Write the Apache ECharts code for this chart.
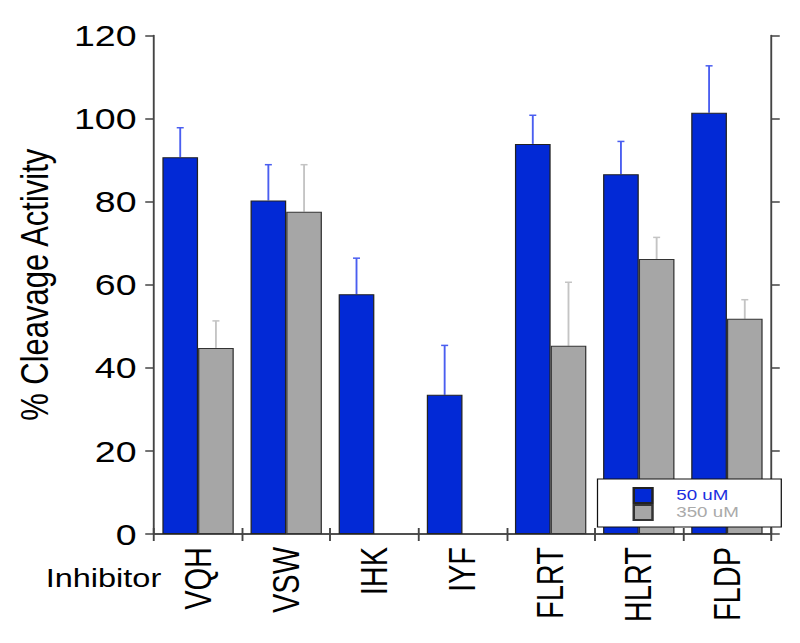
<!DOCTYPE html>
<html>
<head>
<meta charset="utf-8">
<script src="https://cdn.jsdelivr.net/npm/echarts@6/dist/echarts.min.js"></script>
<style>
html,body{margin:0;padding:0;background:#fff;overflow:hidden;}
#c{width:640px;height:643px;transform:scaleX(1.25);transform-origin:0 0;}
</style>
</head>
<body>
<div id="c"></div>
<script>
var categories = ['VQH', 'VSW', 'IHK', 'IYF', 'FLRT', 'HLRT', 'FLDP'];
var values50 = [90.7, 80.3, 57.7, 33.5, 93.9, 86.6, 101.4];
var errors50 = [7.1, 8.6, 8.7, 11.9, 6.9, 7.9, 11.3];
var values350 = [44.8, 77.6, null, null, 45.3, 66.2, 51.8];
var errors350 = [6.5, 11.3, null, null, 15.3, 5.2, 4.6];
var yTicks = [0, 20, 40, 60, 80, 100, 120];
var seriesNames = ['50 uM', '350 uM'];

var FONT = '"Liberation Sans", Arial, Helvetica, sans-serif';
var BLUE = '#0229d6';
var GRAY = '#a6a6a6';
var CAT_GAP = 0.19;

function errorSeries(name, vals, errs, side, color) {
  var data = [];
  for (var i = 0; i < vals.length; i++) {
    if (vals[i] != null && errs[i] != null) data.push([i, vals[i], vals[i] + errs[i]]);
  }
  return {
    type: 'custom',
    name: name + ' err',
    z: 1,
    silent: true,
    data: data,
    renderItem: function (params, api) {
      var cat = api.value(0);
      var lo = api.coord([cat, api.value(1)]);
      var hi = api.coord([cat, api.value(2)]);
      var bw = api.size([1, 0])[0] * (1 - CAT_GAP) / 2;
      var x = lo[0] + side * bw / 2;
      var cap = 2.8;
      var st = { stroke: color, lineWidth: 1.5 };
      return {
        type: 'group',
        children: [
          { type: 'line', shape: { x1: x, y1: lo[1], x2: x, y2: hi[1] }, style: st },
          { type: 'line', shape: { x1: x - cap, y1: hi[1], x2: x + cap, y2: hi[1] }, style: st }
        ]
      };
    }
  };
}

var axisLineStyle = { color: '#444', width: 1.5 };

var chart = echarts.init(document.getElementById('c'), null, { renderer: 'svg' });
chart.setOption({
  animation: false,
  backgroundColor: '#fff',
  grid: { left: 123.2, right: 23.2, top: 35.5, bottom: 109, containLabel: false },
  legend: {
    orient: 'vertical',
    left: 478,
    top: 479,
    width: 124,
    padding: [8, 34, 6, 28],
    itemGap: 0,
    itemWidth: 15,
    itemHeight: 15,
    backgroundColor: '#fff',
    borderColor: '#111',
    borderWidth: 1,
    borderRadius: 0,
    icon: 'rect',
    data: [
      { name: seriesNames[0], textStyle: { color: '#1a2ee0' } },
      { name: seriesNames[1], textStyle: { color: '#aaaaaa' } }
    ],
    textStyle: { fontFamily: FONT, fontSize: 15, lineHeight: 15, padding: [0, 0, 0, 14] }
  },
  xAxis: [
    {
      type: 'category',
      data: categories,
      position: 'bottom',
      axisLine: { lineStyle: axisLineStyle },
      axisTick: { show: true, inside: false, length: 7, lineStyle: axisLineStyle },
      axisLabel: { rotate: 90, margin: 13, fontSize: 29, color: '#000', fontFamily: FONT, interval: 0 }
    },
    {
      type: 'category',
      data: categories,
      position: 'top',
      axisLine: { lineStyle: axisLineStyle },
      axisTick: { show: true, inside: false, length: 6, lineStyle: axisLineStyle },
      axisLabel: { show: false }
    }
  ],
  yAxis: [
    {
      type: 'value',
      min: yTicks[0],
      max: yTicks[yTicks.length - 1],
      interval: yTicks[1] - yTicks[0],
      position: 'left',
      name: '% Cleavage Activity',
      nameLocation: 'middle',
      nameGap: 80,
      nameRotate: 90,
      nameTextStyle: { fontSize: 31, color: '#000', fontFamily: FONT },
      axisLine: { show: true, lineStyle: axisLineStyle },
      axisTick: { show: true, inside: false, length: 7, lineStyle: axisLineStyle },
      axisLabel: { margin: 14, fontSize: 30, color: '#000', fontFamily: FONT },
      splitLine: { show: false }
    },
    {
      type: 'value',
      min: yTicks[0],
      max: yTicks[yTicks.length - 1],
      interval: yTicks[1] - yTicks[0],
      position: 'right',
      axisLine: { show: true, onZero: false, lineStyle: axisLineStyle },
      axisTick: { show: true, inside: false, length: 7, lineStyle: axisLineStyle },
      axisLabel: { show: false },
      splitLine: { show: false }
    }
  ],
  graphic: [
    {
      type: 'text',
      x: 129,
      y: 578,
      style: { text: 'Inhibitor', font: '26px ' + FONT, fill: '#000', align: 'right', verticalAlign: 'middle' }
    }
  ],
  series: [
    {
      type: 'bar',
      name: seriesNames[0],
      data: values50,
      barGap: 0,
      barCategoryGap: (CAT_GAP * 100) + '%',
      itemStyle: { color: BLUE, borderColor: '#222', borderWidth: 1 },
      z: 2
    },
    {
      type: 'bar',
      name: seriesNames[1],
      data: values350,
      barGap: 0,
      barCategoryGap: (CAT_GAP * 100) + '%',
      itemStyle: { color: GRAY, borderColor: '#333', borderWidth: 1 },
      z: 2
    },
    errorSeries(seriesNames[0], values50, errors50, -1, '#4a5ef0'),
    errorSeries(seriesNames[1], values350, errors350, 1, '#c4c4c4')
  ]
});
</script>
</body>
</html>
